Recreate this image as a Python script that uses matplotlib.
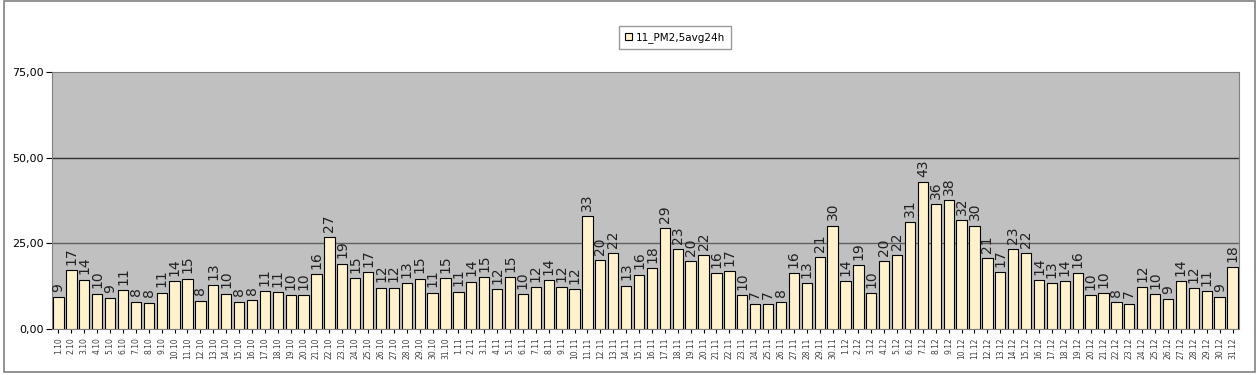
import matplotlib
matplotlib.use("Agg")
import matplotlib.pyplot as plt
from matplotlib.patches import Rectangle

# dates 1.10 - 31.12
days = [f"{d}.10" for d in range(1, 32)] + [f"{d}.11" for d in range(1, 31)] + [f"{d}.12" for d in range(1, 32)]

# PM2,5 24h averages
oct_vals = [9.2, 17.1, 14.4, 10.2, 8.9, 11.3, 7.9, 7.6, 10.6, 13.9,
            14.6, 8.2, 12.7, 10.2, 7.9, 8.4, 11.0, 10.7, 9.9, 9.9,
            16.0, 26.8, 19.0, 14.8, 16.6, 12.0, 12.0, 13.4, 14.6, 10.6, 14.8]
nov_vals = [10.9, 13.8, 15.1, 11.6, 15.1, 10.1, 12.2, 14.2, 12.2, 11.6,
            32.9, 20.0, 22.1, 12.6, 15.9, 17.7, 29.4, 23.2, 19.7, 21.5,
            16.2, 16.8, 9.8, 7.2, 7.2, 7.8, 16.2, 13.3, 20.9, 30.2]
dec_vals = [13.9, 18.6, 10.4, 19.8, 21.5, 31.2, 42.8, 36.4, 37.6, 31.7,
            30.2, 20.6, 16.6, 23.2, 22.1, 14.2, 13.3, 13.9, 16.2, 9.8,
            10.4, 7.8, 7.4, 12.2, 10.1, 8.7, 13.9, 11.9, 11.0, 9.2, 18.0]
values = oct_vals + nov_vals + dec_vals

series_name = "11_PM2,5avg24h"
yticks = [0, 25, 50, 75]

fig = plt.figure(figsize=(12.59, 3.75), dpi=100)
fig.patches.append(Rectangle((0.003, 0.008), 0.994, 0.99, transform=fig.transFigure,
                             fill=False, edgecolor="#808080", lw=1.2))

ax = fig.add_axes([0.0413, 0.1227, 0.9428, 0.6853])
ax.set_facecolor("#c0c0c0")
x = list(range(len(values)))
bars = ax.bar(x, values, width=0.8, color="#fff2cc", edgecolor="black", lw=0.8,
              label=series_name, zorder=3)

for i, v in enumerate(values):
    ax.annotate(str(int(round(v))), (i, v), xytext=(0, 4), textcoords="offset points",
                rotation=90, ha="center", va="bottom", fontsize=10, color="#202020", zorder=4)

for y in yticks[1:3]:
    ax.axhline(y, color="#303030" if y == 50 else "#606060", lw=1, zorder=1)

ax.set_xlim(-0.5, len(values) - 0.5)
ax.set_ylim(0, 75)
ax.set_yticks(yticks)
ax.set_yticklabels([f"{y},00" for y in yticks], fontsize=8)
ax.set_xticks(x)
ax.set_xticklabels(days, rotation=90, fontsize=5.5, color="#404040")
ax.tick_params(axis="x", length=3, pad=3)
ax.tick_params(axis="y", length=4, pad=2)
for s in ax.spines.values():
    s.set_color("#808080")

leg = fig.legend(loc="center", bbox_to_anchor=(0.536, 0.9), fontsize=7.5, frameon=True,
                 fancybox=False, edgecolor="#808080", handlelength=0.7, handleheight=0.7,
                 handletextpad=0.3, borderpad=0.6)

fig.savefig("out.png", dpi=100)
